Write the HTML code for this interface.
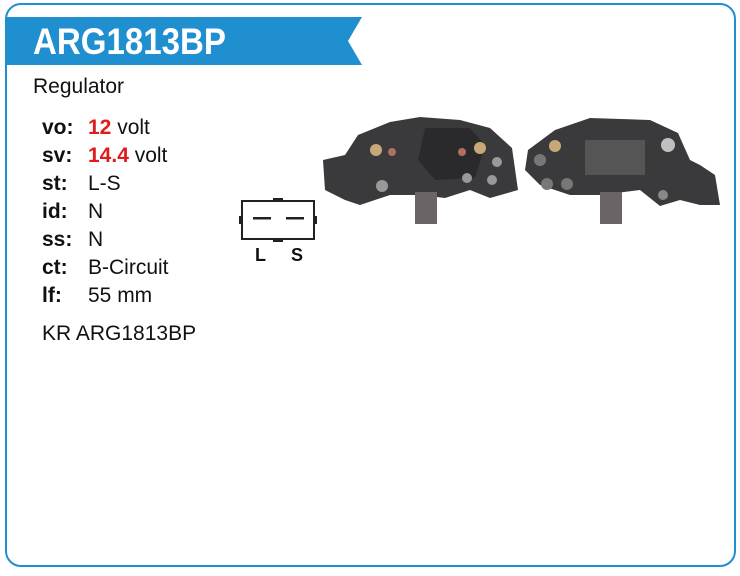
<!DOCTYPE html>
<html><head><style>
body{margin:0;width:740px;height:576px;background:#fff;font-family:"Liberation Sans",Arial,sans-serif;position:relative;overflow:hidden}
.frame{position:absolute;left:5px;top:3px;width:727px;height:560px;border:2px solid #1f8fd0;border-radius:16px}
.t{position:absolute;font-size:21px;color:#111;white-space:nowrap;line-height:22px}
.b{font-weight:bold}
.r{color:#e01b1b;font-weight:bold}
</style></head><body>
<div class="frame"></div>
<svg style="position:absolute;left:0;top:0" width="740" height="576">
<polygon points="7,17 362,17 348,41 362,65 7,65" fill="#1f8fd0"/>
<text x="33" y="54" font-family="Liberation Sans" font-weight="bold" font-size="37" fill="#fff" textLength="193" lengthAdjust="spacingAndGlyphs">ARG1813BP</text>
<!-- connector -->
<rect x="242" y="201" width="72" height="38" fill="#fff" stroke="#222" stroke-width="2"/>
<rect x="273" y="198" width="10" height="3" fill="#222"/>
<rect x="273" y="239" width="10" height="3" fill="#222"/>
<rect x="239" y="216" width="3" height="8" fill="#222"/>
<rect x="314" y="216" width="3" height="8" fill="#222"/>
<rect x="253" y="217" width="18" height="2.5" fill="#222"/>
<rect x="286" y="217" width="18" height="2.5" fill="#222"/>
<text x="255" y="261" font-family="Liberation Sans" font-weight="bold" font-size="18" fill="#111">L</text>
<text x="291" y="261" font-family="Liberation Sans" font-weight="bold" font-size="18" fill="#111">S</text>
<!-- photo 1 -->
<polygon points="323,160 345,155 358,135 390,122 420,117 460,120 490,128 512,148 518,190 490,198 470,190 445,198 420,195 390,195 360,205 345,200 325,190" fill="#3a3a3c"/>
<rect x="415" y="192" width="22" height="32" fill="#6b6466"/>
<polygon points="425,128 470,128 485,145 475,178 435,180 418,160" fill="#2a2a2c"/>
<circle cx="376" cy="150" r="6" fill="#c8a878"/><circle cx="480" cy="148" r="6" fill="#c8a878"/>
<circle cx="392" cy="152" r="4" fill="#b07060"/><circle cx="462" cy="152" r="4" fill="#b07060"/>
<circle cx="382" cy="186" r="6" fill="#999"/><circle cx="497" cy="162" r="5" fill="#999"/><circle cx="492" cy="180" r="5" fill="#999"/><circle cx="467" cy="178" r="5" fill="#999"/>
<!-- photo 2 -->
<polygon points="528,150 555,130 590,118 650,120 678,133 690,160 700,165 715,175 720,205 700,205 680,200 660,206 640,190 600,195 570,195 540,185 525,170" fill="#3a3a3c"/>
<rect x="600" y="192" width="22" height="32" fill="#6b6466"/>
<circle cx="555" cy="146" r="6" fill="#c8a878"/><circle cx="668" cy="145" r="7" fill="#c0c0c0"/>
<circle cx="540" cy="160" r="6" fill="#777"/><circle cx="547" cy="184" r="6" fill="#777"/><circle cx="567" cy="184" r="6" fill="#777"/><circle cx="663" cy="195" r="5" fill="#888"/>
<rect x="585" y="140" width="60" height="35" fill="#555"/>
</svg>
<div class="t" style="left:33px;top:76px">Regulator</div>
<div class="t b" style="left:42px;top:117px">vo:</div><div class="t" style="left:88px;top:117px"><span class="r">12</span> volt</div>
<div class="t b" style="left:42px;top:145px">sv:</div><div class="t" style="left:88px;top:145px"><span class="r">14.4</span> volt</div>
<div class="t b" style="left:42px;top:173px">st:</div><div class="t" style="left:88px;top:173px">L-S</div>
<div class="t b" style="left:42px;top:201px">id:</div><div class="t" style="left:88px;top:201px">N</div>
<div class="t b" style="left:42px;top:229px">ss:</div><div class="t" style="left:88px;top:229px">N</div>
<div class="t b" style="left:42px;top:257px">ct:</div><div class="t" style="left:88px;top:257px">B-Circuit</div>
<div class="t b" style="left:42px;top:285px">lf:</div><div class="t" style="left:88px;top:285px">55 mm</div>
<div class="t" style="left:42px;top:323px">KR ARG1813BP</div>
</body></html>
